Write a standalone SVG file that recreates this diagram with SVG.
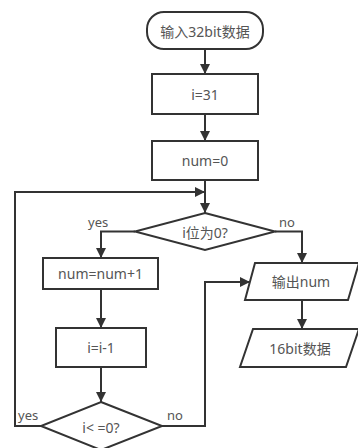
<svg xmlns="http://www.w3.org/2000/svg" width="358" height="448" viewBox="0 0 358 448">
  <defs>
    <marker id="arrow" viewBox="0 0 10 10" refX="10" refY="5" markerWidth="10" markerHeight="10" markerUnits="userSpaceOnUse" orient="auto">
      <path d="M0,0 L10,5 L0,10 Z" fill="#333"/>
    </marker>
    <style>
      .shape { fill: #fff; stroke: #333; stroke-width: 2; }
      .edge { fill: none; stroke: #333; stroke-width: 2; marker-end: url(#arrow); }
      .label { font-family: "Noto Sans", "Noto Sans CJK SC", sans-serif; font-size: 14px; fill: #555; text-anchor: middle; dominant-baseline: central; }
      .branch { font-family: "Noto Sans", "Noto Sans CJK SC", sans-serif; font-size: 13px; fill: #555; }
    </style>
  </defs>

  <!-- connectors -->
  <g id="connectors">
    <path class="edge" d="M205,49 L205,74"/>
    <path class="edge" d="M205,114 L205,141"/>
    <path class="edge" d="M205,180 L205,213"/>
    <path class="edge" d="M42,426 L15,426 L15,192 L205,192"/>
    <path class="edge" d="M135,231.5 L101,231.5 L101,258"/>
    <path class="edge" d="M275,231.5 L302,231.5 L302,263"/>
    <path class="edge" d="M101,289 L101,328"/>
    <path class="edge" d="M101,367 L101,402"/>
    <path class="edge" d="M162,426 L205,426 L205,282 L250,282"/>
    <path class="edge" d="M302,300 L302,329"/>
    <text class="branch" x="88" y="227">yes</text>
    <text class="branch" x="279" y="227">no</text>
    <text class="branch" x="18" y="420">yes</text>
    <text class="branch" x="167" y="420">no</text>
  </g>

  <g id="start">
    <rect class="shape" x="147" y="12" width="116" height="37" rx="17" ry="17"/>
    <text class="label" x="205" y="31">输入32bit数据</text>
  </g>

  <g id="init-i">
    <rect class="shape" x="152" y="74" width="106" height="40"/>
    <text class="label" x="205" y="94">i=31</text>
  </g>

  <g id="init-num">
    <rect class="shape" x="152" y="141" width="106" height="39"/>
    <text class="label" x="205" y="160.5">num=0</text>
  </g>

  <g id="check-bit">
    <polygon class="shape" points="205,213 275,231.5 205,250 135,231.5"/>
    <text class="label" x="205" y="232">i位为0?</text>
  </g>

  <g id="increment">
    <rect class="shape" x="43" y="258" width="115" height="31"/>
    <text class="label" x="100.5" y="273.5">num=num+1</text>
  </g>

  <g id="decrement">
    <rect class="shape" x="56" y="328" width="90" height="39"/>
    <text class="label" x="101" y="347.5">i=i-1</text>
  </g>

  <g id="check-end">
    <polygon class="shape" points="101,402 162,426 101,450 41,426"/>
    <text class="label" x="101" y="427">i&lt; =0?</text>
  </g>

  <g id="output-num">
    <polygon class="shape" points="255,263 359,263 348,300 245,300"/>
    <text class="label" x="301" y="281.5">输出num</text>
  </g>

  <g id="output-16bit">
    <polygon class="shape" points="253,329 359,329 346,367 240,367"/>
    <text class="label" x="300" y="348">16bit数据</text>
  </g>
</svg>
